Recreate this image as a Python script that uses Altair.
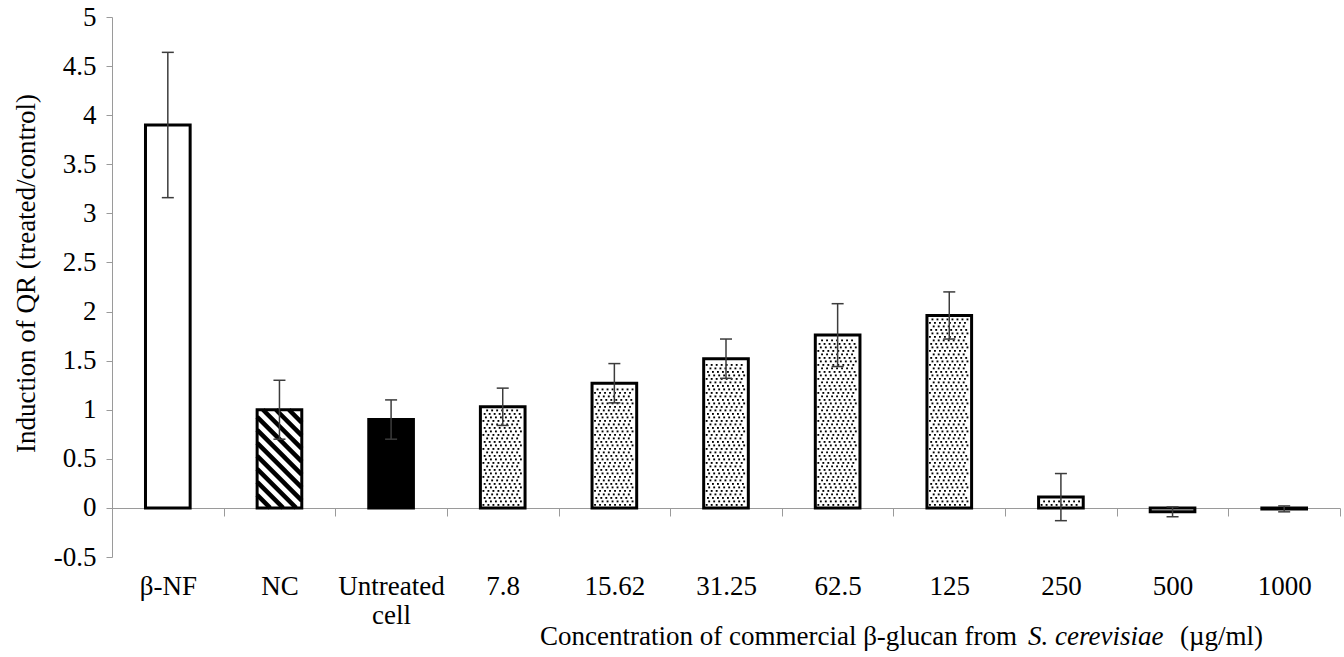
import altair as alt
import pandas as pd

# Treatments along the x axis, in plotting order
categories = ["β-NF", "NC", "Untreated cell", "7.8", "15.62", "31.25",
              "62.5", "125", "250", "500", "1000"]
# Mean induction of QR (treated/control) and its error
means = [3.90, 1.00, 0.90, 1.03, 1.27, 1.52, 1.76, 1.96, 0.11, -0.04, -0.01]
errors = [0.74, 0.30, 0.20, 0.19, 0.20, 0.20, 0.32, 0.24, 0.24, 0.05, 0.03]
# Bar fill and texture style per treatment
fills = ["white", "white", "black"] + ["white"] * 8
textures = ["plain", "stripes", "plain"] + ["dots"] * 8

y_ticks = [-0.5, 0, 0.5, 1, 1.5, 2, 2.5, 3, 3.5, 4, 4.5, 5]

W, H = 1228, 540
Y_MIN, Y_MAX = -0.5, 5.0
N = len(categories)
BAR_FRAC = 0.4
SERIF = "Liberation Serif"
FS = 27
AXIS_GREY = "#9a9a9a"

px_x = W / N                   # pixels per category slot
px_y = H / (Y_MAX - Y_MIN)     # pixels per y unit

bars = pd.DataFrame({"cat": categories, "mean": means, "err": errors,
                     "fill": fills, "idx": range(N)})
bars["lo"] = bars["mean"] - bars["err"]
bars["hi"] = bars["mean"] + bars["err"]
bars["xc"] = bars["idx"] + 0.5
bars["cap_l"] = bars["xc"] - 6 / px_x
bars["cap_r"] = bars["xc"] + 6 / px_x

# Stipple and hatch textures laid inside the bars
dots, stripes = [], []
for i, (v, tex) in enumerate(zip(means, textures)):
    x0 = (i + 0.5 - BAR_FRAC / 2) * px_x
    x1 = (i + 0.5 + BAR_FRAC / 2) * px_x
    top = v * px_y
    if tex == "dots" and top > 6:
        shifts = [0.0, 2.5, 1.25, 3.75]
        r, py = 0, 3.0
        while py <= top - 3:
            px = x0 + 3 + shifts[r % 4]
            while px <= x1 - 3:
                dots.append({"x": px / px_x, "y": py / px_y})
                px += 5
            py += 3.5
            r += 1
    if tex == "stripes":
        c = x0 + 0
        while c < x1 + top:
            lo = max(x0, c - top)
            hi = min(x1, c)
            if hi - lo > 1:
                stripes.append({"x": lo / px_x, "y": (c - lo) / px_y,
                                "x2": hi / px_x, "y2": (c - hi) / px_y})
            c += 13

dots = pd.DataFrame(dots)
stripes = pd.DataFrame(stripes)

y_scale = alt.Scale(domain=[Y_MIN, Y_MAX], nice=False, zero=False)
q_scale = alt.Scale(domain=[0, N], nice=False, zero=False)
band_scale = alt.Scale(domain=categories, paddingInner=0, paddingOuter=0)

x_axis = alt.Axis(
    title=None, labelAngle=0, orient="bottom", offset=-round(0.5 * px_y),
    tickBand="extent", tickSize=8, tickColor=AXIS_GREY, domainColor=AXIS_GREY,
    labelFont=SERIF, labelFontSize=FS, labelColor="black",
    labelPadding=57, labelBaseline="top", labelLineHeight=29,
    labelExpr="datum.value == 'Untreated cell' ? ['Untreated', 'cell'] : datum.value",
)
y_axis = alt.Axis(
    title="Induction of QR (treated/control)", values=y_ticks,
    labelExpr="datum.value + ''", grid=False,
    tickSize=6, tickColor=AXIS_GREY, domainColor=AXIS_GREY,
    labelFont=SERIF, labelFontSize=FS, labelColor="black", labelPadding=10,
    titleFont=SERIF, titleFontSize=FS, titleFontWeight="normal", titleColor="black",
    titleX=-86, titleY=256, titleAngle=270, titleAlign="center", titleBaseline="middle",
)

base = alt.Chart(bars)

bar_fill = base.mark_bar(width=alt.RelativeBandSize(BAR_FRAC), stroke=None).encode(
    x=alt.X("cat:N", scale=band_scale, axis=x_axis, sort=categories),
    y=alt.Y("mean:Q", scale=y_scale, axis=y_axis),
    y2=alt.Y2(datum=0),
    fill=alt.Fill("fill:N", scale=None),
)

dot_layer = alt.Chart(dots).mark_square(size=3.5, color="black", opacity=1).encode(
    x=alt.X("x:Q", scale=q_scale, axis=None),
    y=alt.Y("y:Q", scale=y_scale),
)

stripe_layer = alt.Chart(stripes).mark_rule(color="black", strokeWidth=4.5,
                                             strokeCap="butt").encode(
    x=alt.X("x:Q", scale=q_scale, axis=None),
    y=alt.Y("y:Q", scale=y_scale),
    x2="x2:Q",
    y2="y2:Q",
)

bar_outline = base.mark_bar(width=alt.RelativeBandSize(BAR_FRAC), fillOpacity=0,
                            stroke="black", strokeWidth=3).encode(
    x=alt.X("cat:N", scale=band_scale, axis=None, sort=categories),
    y=alt.Y("mean:Q", scale=y_scale),
    y2=alt.Y2(datum=0),
)

err_color = "#3c3c3c"
err_rule = base.mark_rule(color=err_color, strokeWidth=1.5).encode(
    x=alt.X("xc:Q", scale=q_scale, axis=None),
    y=alt.Y("lo:Q", scale=y_scale),
    y2="hi:Q",
)
cap_hi = base.mark_rule(color=err_color, strokeWidth=1.5).encode(
    x=alt.X("cap_l:Q", scale=q_scale, axis=None),
    x2="cap_r:Q",
    y=alt.Y("hi:Q", scale=y_scale),
)
cap_lo = base.mark_rule(color=err_color, strokeWidth=1.5).encode(
    x=alt.X("cap_l:Q", scale=q_scale, axis=None),
    x2="cap_r:Q",
    y=alt.Y("lo:Q", scale=y_scale),
)

# x-axis title with the species name in italics
one = alt.Data(values=[{}])
title_y = 620
t1 = alt.Chart(one).mark_text(text="Concentration of commercial β-glucan from",
                              font=SERIF, fontSize=FS, align="left",
                              baseline="middle", color="black").encode(
    x=alt.value(428), y=alt.value(title_y))
t2 = alt.Chart(one).mark_text(text="S. cerevisiae", font=SERIF, fontSize=FS,
                              fontStyle="italic", align="left",
                              baseline="middle", color="black").encode(
    x=alt.value(916), y=alt.value(title_y))
t3 = alt.Chart(one).mark_text(text="(µg/ml)", font=SERIF, fontSize=FS,
                              align="left", baseline="middle",
                              color="black").encode(
    x=alt.value(1068), y=alt.value(title_y))

chart = alt.layer(
    bar_fill, dot_layer, stripe_layer, bar_outline, err_rule, cap_hi, cap_lo,
    t1, t2, t3,
).resolve_scale(x="independent").properties(
    width=W, height=H,
    autosize=alt.AutoSizeParams(type="none"),
    padding={"left": 112, "top": 17, "right": 4, "bottom": 100},
    background="white",
).configure_view(stroke=None)

chart.save("out.html", embed_options={"renderer": "svg", "actions": False})
